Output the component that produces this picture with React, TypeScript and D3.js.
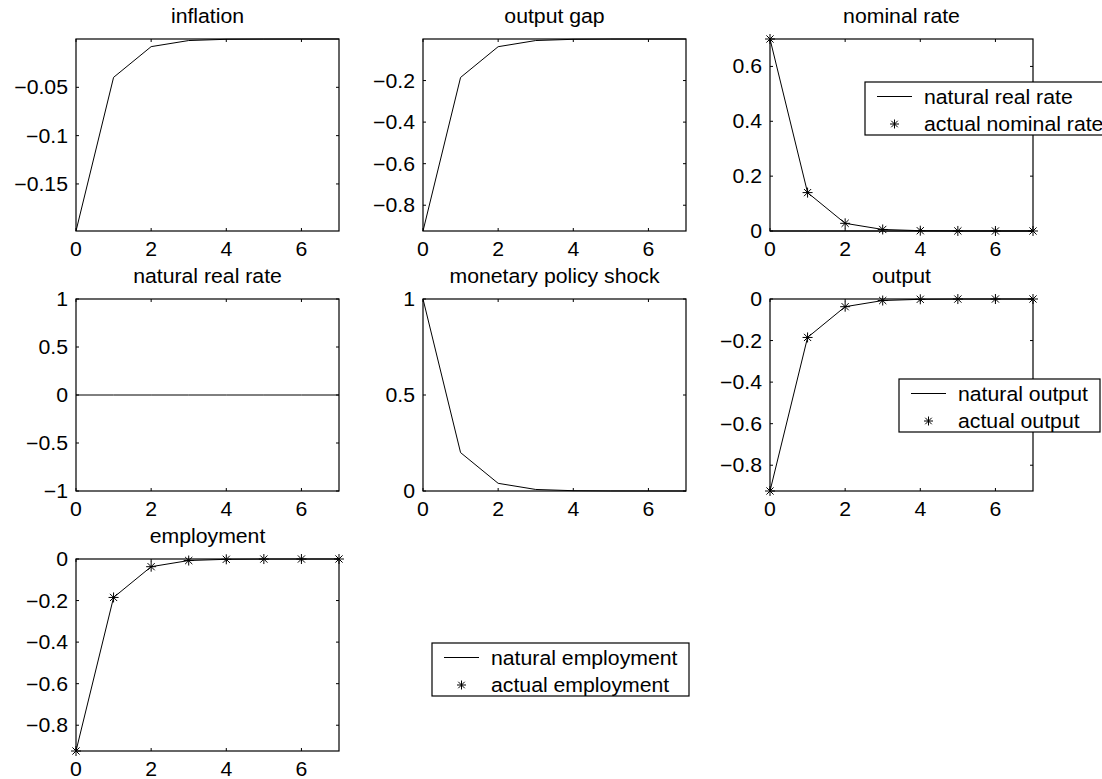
import React from "react";
import * as d3 from "d3";

// impulse responses, periods 0..7
const periods = [0, 1, 2, 3, 4, 5, 6, 7];
const xTicks = [0, 2, 4, 6];

const inflation = [-0.1987, -0.0397, -0.0079, -0.0016, -0.0003, -0.0001, -0.00001, -0.000002];
const outputGap = [-0.924, -0.185, -0.037, -0.0074, -0.0015, -0.0003, -0.0001, -0.00001];
const naturalRealRate = [0, 0, 0, 0, 0, 0, 0, 0];
const actualNominalRate = [0.7, 0.14, 0.028, 0.0056, 0.0011, 0.0002, 0.00005, 0.00001];
const policyShock = [1, 0.2, 0.04, 0.008, 0.0016, 0.0003, 0.0001, 0];
const naturalOutput = [-0.924, -0.185, -0.037, -0.0074, -0.0015, -0.0003, -0.0001, 0];
const actualOutput = [-0.924, -0.185, -0.037, -0.0074, -0.0015, -0.0003, -0.0001, 0];
const naturalEmployment = [-0.924, -0.185, -0.037, -0.0074, -0.0015, -0.0003, -0.0001, 0];
const actualEmployment = [-0.924, -0.185, -0.037, -0.0074, -0.0015, -0.0003, -0.0001, 0];

const FONT = "'Liberation Sans', Arial, Helvetica, sans-serif";
const W = 263;
const H = 192;
const fmt = d3.format("");

const Txt = ({ x, y, anchor = "start", children }: any) => (
  <text
    transform={`translate(${x},${y}) scale(1.09,1)`}
    textAnchor={anchor}
    fontSize={19.5}
    fontFamily={FONT}
    fill="#000"
  >
    {children}
  </text>
);

const starPath = (cx: number, cy: number, r: number) => {
  const d = r * 0.72;
  return `M${cx - r},${cy}H${cx + r}M${cx},${cy - r}V${cy + r}` +
    `M${cx - d},${cy - d}L${cx + d},${cy + d}M${cx - d},${cy + d}L${cx + d},${cy - d}`;
};

const Legend = ({ x, y, w, labels }: any) => (
  <g>
    <rect x={x} y={y} width={w} height={53} fill="#fff" stroke="#000" strokeWidth={1.2} />
    <line x1={x + 12} x2={x + 47} y1={y + 14.5} y2={y + 14.5} stroke="#000" strokeWidth={1} />
    <path d={starPath(x + 29.5, y + 42, 4.5)} stroke="#000" strokeWidth={1} fill="none" />
    <Txt x={x + 59} y={y + 21.5}>{labels[0]}</Txt>
    <Txt x={x + 59} y={y + 48.5}>{labels[1]}</Txt>
  </g>
);

const panels = [
  { title: "inflation", col: 0, row: 0, yDomain: [-0.1987, 0], yTicks: [-0.15, -0.1, -0.05], lines: [inflation] },
  { title: "output gap", col: 1, row: 0, yDomain: [-0.924, 0], yTicks: [-0.8, -0.6, -0.4, -0.2], lines: [outputGap] },
  {
    title: "nominal rate", col: 2, row: 0, yDomain: [0, 0.7], yTicks: [0, 0.2, 0.4, 0.6],
    lines: [naturalRealRate, actualNominalRate], stars: actualNominalRate,
    legend: { dx: 95, dy: 43, w: 250, labels: ["natural real rate", "actual nominal rate"] },
  },
  { title: "natural real rate", col: 0, row: 1, yDomain: [-1, 1], yTicks: [-1, -0.5, 0, 0.5, 1], lines: [naturalRealRate] },
  { title: "monetary policy shock", col: 1, row: 1, yDomain: [0, 1], yTicks: [0, 0.5, 1], lines: [policyShock] },
  {
    title: "output", col: 2, row: 1, yDomain: [-0.924, 0], yTicks: [-0.8, -0.6, -0.4, -0.2, 0],
    lines: [naturalOutput], stars: actualOutput,
    legend: { dx: 129, dy: 80, w: 201, labels: ["natural output", "actual output"] },
  },
  {
    title: "employment", col: 0, row: 2, yDomain: [-0.924, 0], yTicks: [-0.8, -0.6, -0.4, -0.2, 0],
    lines: [naturalEmployment], stars: actualEmployment,
  },
];

const Panel = ({ p }: any) => {
  const left = 76 + p.col * 347;
  const top = 39 + p.row * 260;
  const x = d3.scaleLinear().domain([0, 7]).range([left, left + W]);
  const y = d3.scaleLinear().domain(p.yDomain).range([top + H, top]);
  const line = d3.line<number>().x((_, i) => x(periods[i])).y((d) => y(d));
  const tk = 3;

  return (
    <g>
      <Txt x={left + W / 2} y={top - 16} anchor="middle">{p.title}</Txt>
      {p.lines.map((s: number[], i: number) => (
        <path key={i} d={line(s) || ""} fill="none" stroke="#000" strokeWidth={1} />
      ))}
      <rect x={left} y={top} width={W} height={H} fill="none" stroke="#000" strokeWidth={1.2} />
      {xTicks.map((t) => (
        <g key={"x" + t}>
          <line x1={x(t)} x2={x(t)} y1={top + H} y2={top + H - tk} stroke="#000" />
          <line x1={x(t)} x2={x(t)} y1={top} y2={top + tk} stroke="#000" />
          <Txt x={x(t)} y={top + H + 25} anchor="middle">{fmt(t)}</Txt>
        </g>
      ))}
      {p.yTicks.map((t: number) => (
        <g key={"y" + t}>
          <line x1={left} x2={left + tk} y1={y(t)} y2={y(t)} stroke="#000" />
          <line x1={left + W} x2={left + W - tk} y1={y(t)} y2={y(t)} stroke="#000" />
          <Txt x={left - 8} y={y(t) + 7} anchor="end">{fmt(t)}</Txt>
        </g>
      ))}
      {p.stars &&
        p.stars.map((v: number, i: number) => (
          <path key={"s" + i} d={starPath(x(periods[i]), y(v), 5)} stroke="#000" strokeWidth={1} fill="none" />
        ))}
      {p.legend && <Legend x={left + p.legend.dx} y={top + p.legend.dy} w={p.legend.w} labels={p.legend.labels} />}
    </g>
  );
};

export default function App() {
  return (
    <svg
      width={1102}
      height={779}
      style={{ position: "absolute", left: 0, top: 0, background: "#fff", display: "block" }}
    >
      <rect width={1102} height={779} fill="#fff" />
      {panels.map((p) => (
        <Panel key={p.title} p={p} />
      ))}
      <Legend x={432} y={643} w={257} labels={["natural employment", "actual employment"]} />
    </svg>
  );
}
